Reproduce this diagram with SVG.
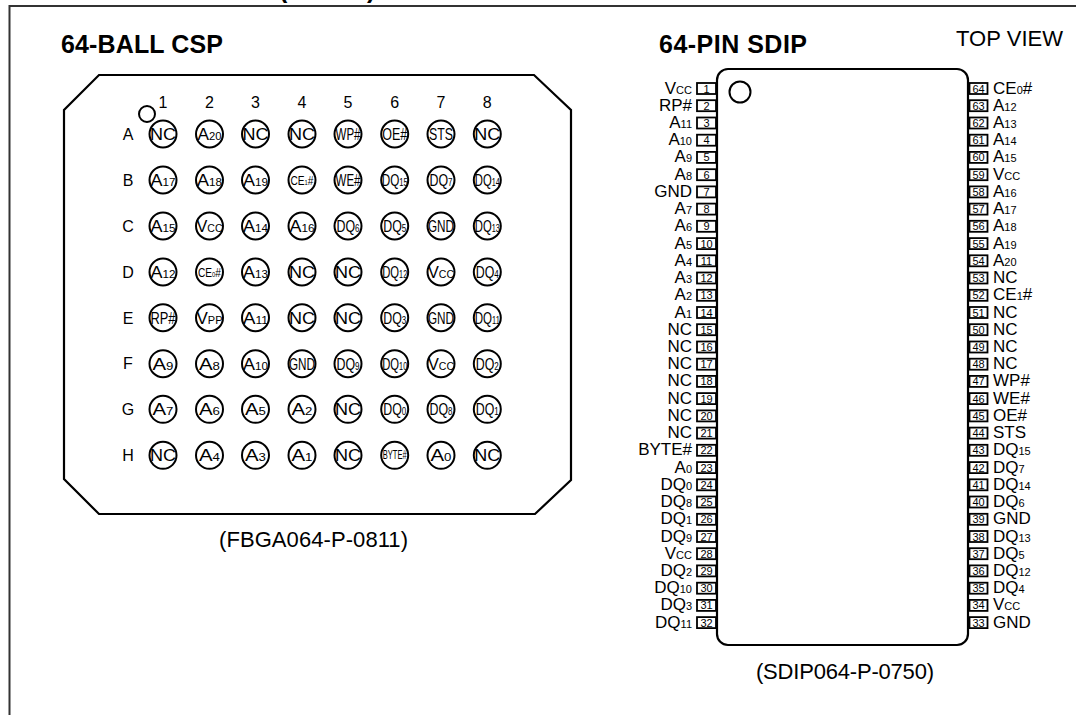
<svg xmlns="http://www.w3.org/2000/svg" width="1076" height="715" viewBox="0 0 1076 715">
<style>
text{font-family:"Liberation Sans",Arial,sans-serif;fill:#000}
.h{font-weight:bold;font-size:25px}
.c{font-size:22px}
.hd{font-size:16px;text-anchor:middle}
.b{fill:none;stroke:#000;stroke-width:2}
#balls circle{r:13.500px}
.t{font-size:17px;text-anchor:middle}
.m{font-size:12px;text-anchor:middle}
.t tspan,.l tspan{font-size:11px}
.l{font-size:17px}
.e{text-anchor:end}
.n{font-size:11px;text-anchor:middle}
.p{fill:#fff;stroke:#000;stroke-width:1.800}
.o{fill:none;stroke:#000;stroke-width:2.200}
</style>
<g id="frame"><path d="M1076 6H9.500V715" fill="none" stroke="#333" stroke-width="2"/></g>
<text class="h" x="279" y="-2">(</text><text class="h" x="367" y="-2">)</text>
<text class="h" x="61" y="53" textLength="162">64-BALL CSP</text>
<text class="h" x="659" y="53" textLength="148">64-PIN SDIP</text>
<text class="c" x="956" y="46" textLength="107">TOP VIEW</text>
<text class="c" x="219" y="547" textLength="189">(FBGA064-P-0811)</text>
<text class="c" x="756" y="679" textLength="178">(SDIP064-P-0750)</text>
<g id="csp-package">
<path class="o" d="M99 75H534L571 110V480L535 514H99L64 479V110Z"/>
<circle cx="147" cy="114" r="8" class="b"/>
</g>
<g id="csp-headers">
<text class="hd" x="163" y="108">1</text><text class="hd" x="209.500" y="108">2</text><text class="hd" x="255.500" y="108">3</text><text class="hd" x="302" y="108">4</text><text class="hd" x="348" y="108">5</text><text class="hd" x="394.700" y="108">6</text><text class="hd" x="441" y="108">7</text><text class="hd" x="487.300" y="108">8</text>
<text class="hd" x="128" y="139.500">A</text><text class="hd" x="128" y="185.500">B</text><text class="hd" x="128" y="231.500">C</text><text class="hd" x="128" y="277.500">D</text><text class="hd" x="128" y="323.500">E</text><text class="hd" x="128" y="369">F</text><text class="hd" x="128" y="414.500">G</text><text class="hd" x="128" y="460.500">H</text>
</g>
<g id="balls">
<g id="A1" transform="translate(163 134)"><circle r="13" class="b"/><text class="t" y="6" lengthAdjust="spacingAndGlyphs" textLength="26">NC</text></g>
<g id="A2" transform="translate(209.500 134)"><circle r="13" class="b"/><text class="t" y="6" lengthAdjust="spacingAndGlyphs" textLength="24">A<tspan>20</tspan></text></g>
<g id="A3" transform="translate(255.500 134)"><circle r="13" class="b"/><text class="t" y="6" lengthAdjust="spacingAndGlyphs" textLength="26">NC</text></g>
<g id="A4" transform="translate(302 134)"><circle r="13" class="b"/><text class="t" y="6" lengthAdjust="spacingAndGlyphs" textLength="26">NC</text></g>
<g id="A5" transform="translate(348 134)"><circle r="13" class="b"/><text class="t" y="6" lengthAdjust="spacingAndGlyphs" textLength="25">WP#</text></g>
<g id="A6" transform="translate(394.700 134)"><circle r="13" class="b"/><text class="t" y="6" lengthAdjust="spacingAndGlyphs" textLength="25">OE#</text></g>
<g id="A7" transform="translate(441 134)"><circle r="13" class="b"/><text class="t" y="6" lengthAdjust="spacingAndGlyphs" textLength="24">STS</text></g>
<g id="A8" transform="translate(487.300 134)"><circle r="13" class="b"/><text class="t" y="6" lengthAdjust="spacingAndGlyphs" textLength="26">NC</text></g>
<g id="B1" transform="translate(163 180)"><circle r="13" class="b"/><text class="t" y="6" lengthAdjust="spacingAndGlyphs" textLength="25">A<tspan>17</tspan></text></g>
<g id="B2" transform="translate(209.500 180)"><circle r="13" class="b"/><text class="t" y="6" lengthAdjust="spacingAndGlyphs" textLength="25">A<tspan>18</tspan></text></g>
<g id="B3" transform="translate(255.500 180)"><circle r="13" class="b"/><text class="t" y="6" lengthAdjust="spacingAndGlyphs" textLength="25">A<tspan>19</tspan></text></g>
<g id="B4" transform="translate(302 180)"><circle r="13" class="b"/><text class="m" y="4.500" lengthAdjust="spacingAndGlyphs" textLength="23">CE<tspan font-size="7">1</tspan>#</text></g>
<g id="B5" transform="translate(348 180)"><circle r="13" class="b"/><text class="t" y="6" lengthAdjust="spacingAndGlyphs" textLength="25">WE#</text></g>
<g id="B6" transform="translate(394.700 180)"><circle r="13" class="b"/><text class="t" y="6" lengthAdjust="spacingAndGlyphs" textLength="26">DQ<tspan>15</tspan></text></g>
<g id="B7" transform="translate(441 180)"><circle r="13" class="b"/><text class="t" y="6" lengthAdjust="spacingAndGlyphs" textLength="23">DQ<tspan>7</tspan></text></g>
<g id="B8" transform="translate(487.300 180)"><circle r="13" class="b"/><text class="t" y="6" lengthAdjust="spacingAndGlyphs" textLength="25">DQ<tspan>14</tspan></text></g>
<g id="C1" transform="translate(163 226)"><circle r="13" class="b"/><text class="t" y="6" lengthAdjust="spacingAndGlyphs" textLength="25">A<tspan>15</tspan></text></g>
<g id="C2" transform="translate(209.500 226)"><circle r="13" class="b"/><text class="t" y="6" lengthAdjust="spacingAndGlyphs" textLength="26">V<tspan>CC</tspan></text></g>
<g id="C3" transform="translate(255.500 226)"><circle r="13" class="b"/><text class="t" y="6" lengthAdjust="spacingAndGlyphs" textLength="25">A<tspan>14</tspan></text></g>
<g id="C4" transform="translate(302 226)"><circle r="13" class="b"/><text class="t" y="6" lengthAdjust="spacingAndGlyphs" textLength="25">A<tspan>16</tspan></text></g>
<g id="C5" transform="translate(348 226)"><circle r="13" class="b"/><text class="t" y="6" lengthAdjust="spacingAndGlyphs" textLength="23">DQ<tspan>6</tspan></text></g>
<g id="C6" transform="translate(394.700 226)"><circle r="13" class="b"/><text class="t" y="6" lengthAdjust="spacingAndGlyphs" textLength="23">DQ<tspan>5</tspan></text></g>
<g id="C7" transform="translate(441 226)"><circle r="13" class="b"/><text class="t" y="6" lengthAdjust="spacingAndGlyphs" textLength="26">GND</text></g>
<g id="C8" transform="translate(487.300 226)"><circle r="13" class="b"/><text class="t" y="6" lengthAdjust="spacingAndGlyphs" textLength="25">DQ<tspan>13</tspan></text></g>
<g id="D1" transform="translate(163 272)"><circle r="13" class="b"/><text class="t" y="6" lengthAdjust="spacingAndGlyphs" textLength="25">A<tspan>12</tspan></text></g>
<g id="D2" transform="translate(209.500 272)"><circle r="13" class="b"/><text class="m" y="4.500" lengthAdjust="spacingAndGlyphs" textLength="23">CE<tspan font-size="7">0</tspan>#</text></g>
<g id="D3" transform="translate(255.500 272)"><circle r="13" class="b"/><text class="t" y="6" lengthAdjust="spacingAndGlyphs" textLength="25">A<tspan>13</tspan></text></g>
<g id="D4" transform="translate(302 272)"><circle r="13" class="b"/><text class="t" y="6" lengthAdjust="spacingAndGlyphs" textLength="26">NC</text></g>
<g id="D5" transform="translate(348 272)"><circle r="13" class="b"/><text class="t" y="6" lengthAdjust="spacingAndGlyphs" textLength="26">NC</text></g>
<g id="D6" transform="translate(394.700 272)"><circle r="13" class="b"/><text class="t" y="6" lengthAdjust="spacingAndGlyphs" textLength="25">DQ<tspan>12</tspan></text></g>
<g id="D7" transform="translate(441 272)"><circle r="13" class="b"/><text class="t" y="6" lengthAdjust="spacingAndGlyphs" textLength="26">V<tspan>CC</tspan></text></g>
<g id="D8" transform="translate(487.300 272)"><circle r="13" class="b"/><text class="t" y="6" lengthAdjust="spacingAndGlyphs" textLength="23">DQ<tspan>4</tspan></text></g>
<g id="E1" transform="translate(163 317.700)"><circle r="13" class="b"/><text class="t" y="6" lengthAdjust="spacingAndGlyphs" textLength="25">RP#</text></g>
<g id="E2" transform="translate(209.500 317.700)"><circle r="13" class="b"/><text class="t" y="6" lengthAdjust="spacingAndGlyphs" textLength="26">V<tspan>PP</tspan></text></g>
<g id="E3" transform="translate(255.500 317.700)"><circle r="13" class="b"/><text class="t" y="6" lengthAdjust="spacingAndGlyphs" textLength="25">A<tspan>11</tspan></text></g>
<g id="E4" transform="translate(302 317.700)"><circle r="13" class="b"/><text class="t" y="6" lengthAdjust="spacingAndGlyphs" textLength="26">NC</text></g>
<g id="E5" transform="translate(348 317.700)"><circle r="13" class="b"/><text class="t" y="6" lengthAdjust="spacingAndGlyphs" textLength="26">NC</text></g>
<g id="E6" transform="translate(394.700 317.700)"><circle r="13" class="b"/><text class="t" y="6" lengthAdjust="spacingAndGlyphs" textLength="23">DQ<tspan>3</tspan></text></g>
<g id="E7" transform="translate(441 317.700)"><circle r="13" class="b"/><text class="t" y="6" lengthAdjust="spacingAndGlyphs" textLength="26">GND</text></g>
<g id="E8" transform="translate(487.300 317.700)"><circle r="13" class="b"/><text class="t" y="6" lengthAdjust="spacingAndGlyphs" textLength="25">DQ<tspan>11</tspan></text></g>
<g id="F1" transform="translate(163 363.700)"><circle r="13" class="b"/><text class="t" y="6" lengthAdjust="spacingAndGlyphs" textLength="21">A<tspan>9</tspan></text></g>
<g id="F2" transform="translate(209.500 363.700)"><circle r="13" class="b"/><text class="t" y="6" lengthAdjust="spacingAndGlyphs" textLength="21">A<tspan>8</tspan></text></g>
<g id="F3" transform="translate(255.500 363.700)"><circle r="13" class="b"/><text class="t" y="6" lengthAdjust="spacingAndGlyphs" textLength="25">A<tspan>10</tspan></text></g>
<g id="F4" transform="translate(302 363.700)"><circle r="13" class="b"/><text class="t" y="6" lengthAdjust="spacingAndGlyphs" textLength="26">GND</text></g>
<g id="F5" transform="translate(348 363.700)"><circle r="13" class="b"/><text class="t" y="6" lengthAdjust="spacingAndGlyphs" textLength="23">DQ<tspan>9</tspan></text></g>
<g id="F6" transform="translate(394.700 363.700)"><circle r="13" class="b"/><text class="t" y="6" lengthAdjust="spacingAndGlyphs" textLength="25">DQ<tspan>10</tspan></text></g>
<g id="F7" transform="translate(441 363.700)"><circle r="13" class="b"/><text class="t" y="6" lengthAdjust="spacingAndGlyphs" textLength="26">V<tspan>CC</tspan></text></g>
<g id="F8" transform="translate(487.300 363.700)"><circle r="13" class="b"/><text class="t" y="6" lengthAdjust="spacingAndGlyphs" textLength="23">DQ<tspan>2</tspan></text></g>
<g id="G1" transform="translate(163 409.300)"><circle r="13" class="b"/><text class="t" y="6" lengthAdjust="spacingAndGlyphs" textLength="21">A<tspan>7</tspan></text></g>
<g id="G2" transform="translate(209.500 409.300)"><circle r="13" class="b"/><text class="t" y="6" lengthAdjust="spacingAndGlyphs" textLength="21">A<tspan>6</tspan></text></g>
<g id="G3" transform="translate(255.500 409.300)"><circle r="13" class="b"/><text class="t" y="6" lengthAdjust="spacingAndGlyphs" textLength="21">A<tspan>5</tspan></text></g>
<g id="G4" transform="translate(302 409.300)"><circle r="13" class="b"/><text class="t" y="6" lengthAdjust="spacingAndGlyphs" textLength="21">A<tspan>2</tspan></text></g>
<g id="G5" transform="translate(348 409.300)"><circle r="13" class="b"/><text class="t" y="6" lengthAdjust="spacingAndGlyphs" textLength="26">NC</text></g>
<g id="G6" transform="translate(394.700 409.300)"><circle r="13" class="b"/><text class="t" y="6" lengthAdjust="spacingAndGlyphs" textLength="23">DQ<tspan>0</tspan></text></g>
<g id="G7" transform="translate(441 409.300)"><circle r="13" class="b"/><text class="t" y="6" lengthAdjust="spacingAndGlyphs" textLength="23">DQ<tspan>8</tspan></text></g>
<g id="G8" transform="translate(487.300 409.300)"><circle r="13" class="b"/><text class="t" y="6" lengthAdjust="spacingAndGlyphs" textLength="23">DQ<tspan>1</tspan></text></g>
<g id="H1" transform="translate(163 455.300)"><circle r="13" class="b"/><text class="t" y="6" lengthAdjust="spacingAndGlyphs" textLength="26">NC</text></g>
<g id="H2" transform="translate(209.500 455.300)"><circle r="13" class="b"/><text class="t" y="6" lengthAdjust="spacingAndGlyphs" textLength="21">A<tspan>4</tspan></text></g>
<g id="H3" transform="translate(255.500 455.300)"><circle r="13" class="b"/><text class="t" y="6" lengthAdjust="spacingAndGlyphs" textLength="21">A<tspan>3</tspan></text></g>
<g id="H4" transform="translate(302 455.300)"><circle r="13" class="b"/><text class="t" y="6" lengthAdjust="spacingAndGlyphs" textLength="21">A<tspan>1</tspan></text></g>
<g id="H5" transform="translate(348 455.300)"><circle r="13" class="b"/><text class="t" y="6" lengthAdjust="spacingAndGlyphs" textLength="26">NC</text></g>
<g id="H6" transform="translate(394.700 455.300)"><circle r="13" class="b"/><text class="m" y="4" lengthAdjust="spacingAndGlyphs" textLength="24">BYTE#</text></g>
<g id="H7" transform="translate(441 455.300)"><circle r="13" class="b"/><text class="t" y="6" lengthAdjust="spacingAndGlyphs" textLength="21">A<tspan>0</tspan></text></g>
<g id="H8" transform="translate(487.300 455.300)"><circle r="13" class="b"/><text class="t" y="6" lengthAdjust="spacingAndGlyphs" textLength="26">NC</text></g>
</g>
<g id="sdip-body">
<rect x="717" y="69" width="251" height="576" rx="11" fill="none" stroke="#000" stroke-width="2.200"/>
<circle cx="740" cy="92" r="10.500" class="b"/>
</g>
<g id="pins-left">
<g id="pin1" transform="translate(0 88.500)"><rect class="p" x="697" y="-5.500" width="19" height="11"/><text class="n" x="706.500" y="4">1</text><text class="l e" x="692" y="5">V<tspan>CC</tspan></text></g>
<g id="pin2" transform="translate(0 105.700)"><rect class="p" x="697" y="-5.500" width="19" height="11"/><text class="n" x="706.500" y="4">2</text><text class="l e" x="692" y="5">RP#</text></g>
<g id="pin3" transform="translate(0 123)"><rect class="p" x="697" y="-5.500" width="19" height="11"/><text class="n" x="706.500" y="4">3</text><text class="l e" x="692" y="5">A<tspan>11</tspan></text></g>
<g id="pin4" transform="translate(0 140.200)"><rect class="p" x="697" y="-5.500" width="19" height="11"/><text class="n" x="706.500" y="4">4</text><text class="l e" x="692" y="5">A<tspan>10</tspan></text></g>
<g id="pin5" transform="translate(0 157.400)"><rect class="p" x="697" y="-5.500" width="19" height="11"/><text class="n" x="706.500" y="4">5</text><text class="l e" x="692" y="5">A<tspan>9</tspan></text></g>
<g id="pin6" transform="translate(0 174.700)"><rect class="p" x="697" y="-5.500" width="19" height="11"/><text class="n" x="706.500" y="4">6</text><text class="l e" x="692" y="5">A<tspan>8</tspan></text></g>
<g id="pin7" transform="translate(0 191.900)"><rect class="p" x="697" y="-5.500" width="19" height="11"/><text class="n" x="706.500" y="4">7</text><text class="l e" x="692" y="5">GND</text></g>
<g id="pin8" transform="translate(0 209.100)"><rect class="p" x="697" y="-5.500" width="19" height="11"/><text class="n" x="706.500" y="4">8</text><text class="l e" x="692" y="5">A<tspan>7</tspan></text></g>
<g id="pin9" transform="translate(0 226.300)"><rect class="p" x="697" y="-5.500" width="19" height="11"/><text class="n" x="706.500" y="4">9</text><text class="l e" x="692" y="5">A<tspan>6</tspan></text></g>
<g id="pin10" transform="translate(0 243.600)"><rect class="p" x="697" y="-5.500" width="19" height="11"/><text class="n" x="706.500" y="4">10</text><text class="l e" x="692" y="5">A<tspan>5</tspan></text></g>
<g id="pin11" transform="translate(0 260.800)"><rect class="p" x="697" y="-5.500" width="19" height="11"/><text class="n" x="706.500" y="4">11</text><text class="l e" x="692" y="5">A<tspan>4</tspan></text></g>
<g id="pin12" transform="translate(0 278)"><rect class="p" x="697" y="-5.500" width="19" height="11"/><text class="n" x="706.500" y="4">12</text><text class="l e" x="692" y="5">A<tspan>3</tspan></text></g>
<g id="pin13" transform="translate(0 295.300)"><rect class="p" x="697" y="-5.500" width="19" height="11"/><text class="n" x="706.500" y="4">13</text><text class="l e" x="692" y="5">A<tspan>2</tspan></text></g>
<g id="pin14" transform="translate(0 312.500)"><rect class="p" x="697" y="-5.500" width="19" height="11"/><text class="n" x="706.500" y="4">14</text><text class="l e" x="692" y="5">A<tspan>1</tspan></text></g>
<g id="pin15" transform="translate(0 329.700)"><rect class="p" x="697" y="-5.500" width="19" height="11"/><text class="n" x="706.500" y="4">15</text><text class="l e" x="692" y="5">NC</text></g>
<g id="pin16" transform="translate(0 347)"><rect class="p" x="697" y="-5.500" width="19" height="11"/><text class="n" x="706.500" y="4">16</text><text class="l e" x="692" y="5">NC</text></g>
<g id="pin17" transform="translate(0 364.200)"><rect class="p" x="697" y="-5.500" width="19" height="11"/><text class="n" x="706.500" y="4">17</text><text class="l e" x="692" y="5">NC</text></g>
<g id="pin18" transform="translate(0 381.400)"><rect class="p" x="697" y="-5.500" width="19" height="11"/><text class="n" x="706.500" y="4">18</text><text class="l e" x="692" y="5">NC</text></g>
<g id="pin19" transform="translate(0 398.600)"><rect class="p" x="697" y="-5.500" width="19" height="11"/><text class="n" x="706.500" y="4">19</text><text class="l e" x="692" y="5">NC</text></g>
<g id="pin20" transform="translate(0 415.900)"><rect class="p" x="697" y="-5.500" width="19" height="11"/><text class="n" x="706.500" y="4">20</text><text class="l e" x="692" y="5">NC</text></g>
<g id="pin21" transform="translate(0 433.100)"><rect class="p" x="697" y="-5.500" width="19" height="11"/><text class="n" x="706.500" y="4">21</text><text class="l e" x="692" y="5">NC</text></g>
<g id="pin22" transform="translate(0 450.300)"><rect class="p" x="697" y="-5.500" width="19" height="11"/><text class="n" x="706.500" y="4">22</text><text class="l e" x="692" y="5">BYTE#</text></g>
<g id="pin23" transform="translate(0 467.600)"><rect class="p" x="697" y="-5.500" width="19" height="11"/><text class="n" x="706.500" y="4">23</text><text class="l e" x="692" y="5">A<tspan>0</tspan></text></g>
<g id="pin24" transform="translate(0 484.800)"><rect class="p" x="697" y="-5.500" width="19" height="11"/><text class="n" x="706.500" y="4">24</text><text class="l e" x="692" y="5">DQ<tspan>0</tspan></text></g>
<g id="pin25" transform="translate(0 502)"><rect class="p" x="697" y="-5.500" width="19" height="11"/><text class="n" x="706.500" y="4">25</text><text class="l e" x="692" y="5">DQ<tspan>8</tspan></text></g>
<g id="pin26" transform="translate(0 519.300)"><rect class="p" x="697" y="-5.500" width="19" height="11"/><text class="n" x="706.500" y="4">26</text><text class="l e" x="692" y="5">DQ<tspan>1</tspan></text></g>
<g id="pin27" transform="translate(0 536.500)"><rect class="p" x="697" y="-5.500" width="19" height="11"/><text class="n" x="706.500" y="4">27</text><text class="l e" x="692" y="5">DQ<tspan>9</tspan></text></g>
<g id="pin28" transform="translate(0 553.700)"><rect class="p" x="697" y="-5.500" width="19" height="11"/><text class="n" x="706.500" y="4">28</text><text class="l e" x="692" y="5">V<tspan>CC</tspan></text></g>
<g id="pin29" transform="translate(0 570.900)"><rect class="p" x="697" y="-5.500" width="19" height="11"/><text class="n" x="706.500" y="4">29</text><text class="l e" x="692" y="5">DQ<tspan>2</tspan></text></g>
<g id="pin30" transform="translate(0 588.200)"><rect class="p" x="697" y="-5.500" width="19" height="11"/><text class="n" x="706.500" y="4">30</text><text class="l e" x="692" y="5">DQ<tspan>10</tspan></text></g>
<g id="pin31" transform="translate(0 605.400)"><rect class="p" x="697" y="-5.500" width="19" height="11"/><text class="n" x="706.500" y="4">31</text><text class="l e" x="692" y="5">DQ<tspan>3</tspan></text></g>
<g id="pin32" transform="translate(0 622.600)"><rect class="p" x="697" y="-5.500" width="19" height="11"/><text class="n" x="706.500" y="4">32</text><text class="l e" x="692" y="5">DQ<tspan>11</tspan></text></g>
</g>
<g id="pins-right">
<g id="pin64" transform="translate(0 88.500)"><rect class="p" x="969.500" y="-5.500" width="18" height="11"/><text class="n" x="978.500" y="4">64</text><text class="l" x="993" y="5">CE<tspan>0</tspan>#</text></g>
<g id="pin63" transform="translate(0 105.700)"><rect class="p" x="969.500" y="-5.500" width="18" height="11"/><text class="n" x="978.500" y="4">63</text><text class="l" x="993" y="5">A<tspan>12</tspan></text></g>
<g id="pin62" transform="translate(0 123)"><rect class="p" x="969.500" y="-5.500" width="18" height="11"/><text class="n" x="978.500" y="4">62</text><text class="l" x="993" y="5">A<tspan>13</tspan></text></g>
<g id="pin61" transform="translate(0 140.200)"><rect class="p" x="969.500" y="-5.500" width="18" height="11"/><text class="n" x="978.500" y="4">61</text><text class="l" x="993" y="5">A<tspan>14</tspan></text></g>
<g id="pin60" transform="translate(0 157.400)"><rect class="p" x="969.500" y="-5.500" width="18" height="11"/><text class="n" x="978.500" y="4">60</text><text class="l" x="993" y="5">A<tspan>15</tspan></text></g>
<g id="pin59" transform="translate(0 174.700)"><rect class="p" x="969.500" y="-5.500" width="18" height="11"/><text class="n" x="978.500" y="4">59</text><text class="l" x="993" y="5">V<tspan>CC</tspan></text></g>
<g id="pin58" transform="translate(0 191.900)"><rect class="p" x="969.500" y="-5.500" width="18" height="11"/><text class="n" x="978.500" y="4">58</text><text class="l" x="993" y="5">A<tspan>16</tspan></text></g>
<g id="pin57" transform="translate(0 209.100)"><rect class="p" x="969.500" y="-5.500" width="18" height="11"/><text class="n" x="978.500" y="4">57</text><text class="l" x="993" y="5">A<tspan>17</tspan></text></g>
<g id="pin56" transform="translate(0 226.300)"><rect class="p" x="969.500" y="-5.500" width="18" height="11"/><text class="n" x="978.500" y="4">56</text><text class="l" x="993" y="5">A<tspan>18</tspan></text></g>
<g id="pin55" transform="translate(0 243.600)"><rect class="p" x="969.500" y="-5.500" width="18" height="11"/><text class="n" x="978.500" y="4">55</text><text class="l" x="993" y="5">A<tspan>19</tspan></text></g>
<g id="pin54" transform="translate(0 260.800)"><rect class="p" x="969.500" y="-5.500" width="18" height="11"/><text class="n" x="978.500" y="4">54</text><text class="l" x="993" y="5">A<tspan>20</tspan></text></g>
<g id="pin53" transform="translate(0 278)"><rect class="p" x="969.500" y="-5.500" width="18" height="11"/><text class="n" x="978.500" y="4">53</text><text class="l" x="993" y="5">NC</text></g>
<g id="pin52" transform="translate(0 295.300)"><rect class="p" x="969.500" y="-5.500" width="18" height="11"/><text class="n" x="978.500" y="4">52</text><text class="l" x="993" y="5">CE<tspan>1</tspan>#</text></g>
<g id="pin51" transform="translate(0 312.500)"><rect class="p" x="969.500" y="-5.500" width="18" height="11"/><text class="n" x="978.500" y="4">51</text><text class="l" x="993" y="5">NC</text></g>
<g id="pin50" transform="translate(0 329.700)"><rect class="p" x="969.500" y="-5.500" width="18" height="11"/><text class="n" x="978.500" y="4">50</text><text class="l" x="993" y="5">NC</text></g>
<g id="pin49" transform="translate(0 347)"><rect class="p" x="969.500" y="-5.500" width="18" height="11"/><text class="n" x="978.500" y="4">49</text><text class="l" x="993" y="5">NC</text></g>
<g id="pin48" transform="translate(0 364.200)"><rect class="p" x="969.500" y="-5.500" width="18" height="11"/><text class="n" x="978.500" y="4">48</text><text class="l" x="993" y="5">NC</text></g>
<g id="pin47" transform="translate(0 381.400)"><rect class="p" x="969.500" y="-5.500" width="18" height="11"/><text class="n" x="978.500" y="4">47</text><text class="l" x="993" y="5">WP#</text></g>
<g id="pin46" transform="translate(0 398.600)"><rect class="p" x="969.500" y="-5.500" width="18" height="11"/><text class="n" x="978.500" y="4">46</text><text class="l" x="993" y="5">WE#</text></g>
<g id="pin45" transform="translate(0 415.900)"><rect class="p" x="969.500" y="-5.500" width="18" height="11"/><text class="n" x="978.500" y="4">45</text><text class="l" x="993" y="5">OE#</text></g>
<g id="pin44" transform="translate(0 433.100)"><rect class="p" x="969.500" y="-5.500" width="18" height="11"/><text class="n" x="978.500" y="4">44</text><text class="l" x="993" y="5">STS</text></g>
<g id="pin43" transform="translate(0 450.300)"><rect class="p" x="969.500" y="-5.500" width="18" height="11"/><text class="n" x="978.500" y="4">43</text><text class="l" x="993" y="5">DQ<tspan>15</tspan></text></g>
<g id="pin42" transform="translate(0 467.600)"><rect class="p" x="969.500" y="-5.500" width="18" height="11"/><text class="n" x="978.500" y="4">42</text><text class="l" x="993" y="5">DQ<tspan>7</tspan></text></g>
<g id="pin41" transform="translate(0 484.800)"><rect class="p" x="969.500" y="-5.500" width="18" height="11"/><text class="n" x="978.500" y="4">41</text><text class="l" x="993" y="5">DQ<tspan>14</tspan></text></g>
<g id="pin40" transform="translate(0 502)"><rect class="p" x="969.500" y="-5.500" width="18" height="11"/><text class="n" x="978.500" y="4">40</text><text class="l" x="993" y="5">DQ<tspan>6</tspan></text></g>
<g id="pin39" transform="translate(0 519.300)"><rect class="p" x="969.500" y="-5.500" width="18" height="11"/><text class="n" x="978.500" y="4">39</text><text class="l" x="993" y="5">GND</text></g>
<g id="pin38" transform="translate(0 536.500)"><rect class="p" x="969.500" y="-5.500" width="18" height="11"/><text class="n" x="978.500" y="4">38</text><text class="l" x="993" y="5">DQ<tspan>13</tspan></text></g>
<g id="pin37" transform="translate(0 553.700)"><rect class="p" x="969.500" y="-5.500" width="18" height="11"/><text class="n" x="978.500" y="4">37</text><text class="l" x="993" y="5">DQ<tspan>5</tspan></text></g>
<g id="pin36" transform="translate(0 570.900)"><rect class="p" x="969.500" y="-5.500" width="18" height="11"/><text class="n" x="978.500" y="4">36</text><text class="l" x="993" y="5">DQ<tspan>12</tspan></text></g>
<g id="pin35" transform="translate(0 588.200)"><rect class="p" x="969.500" y="-5.500" width="18" height="11"/><text class="n" x="978.500" y="4">35</text><text class="l" x="993" y="5">DQ<tspan>4</tspan></text></g>
<g id="pin34" transform="translate(0 605.400)"><rect class="p" x="969.500" y="-5.500" width="18" height="11"/><text class="n" x="978.500" y="4">34</text><text class="l" x="993" y="5">V<tspan>CC</tspan></text></g>
<g id="pin33" transform="translate(0 622.600)"><rect class="p" x="969.500" y="-5.500" width="18" height="11"/><text class="n" x="978.500" y="4">33</text><text class="l" x="993" y="5">GND</text></g>
</g>
</svg>
